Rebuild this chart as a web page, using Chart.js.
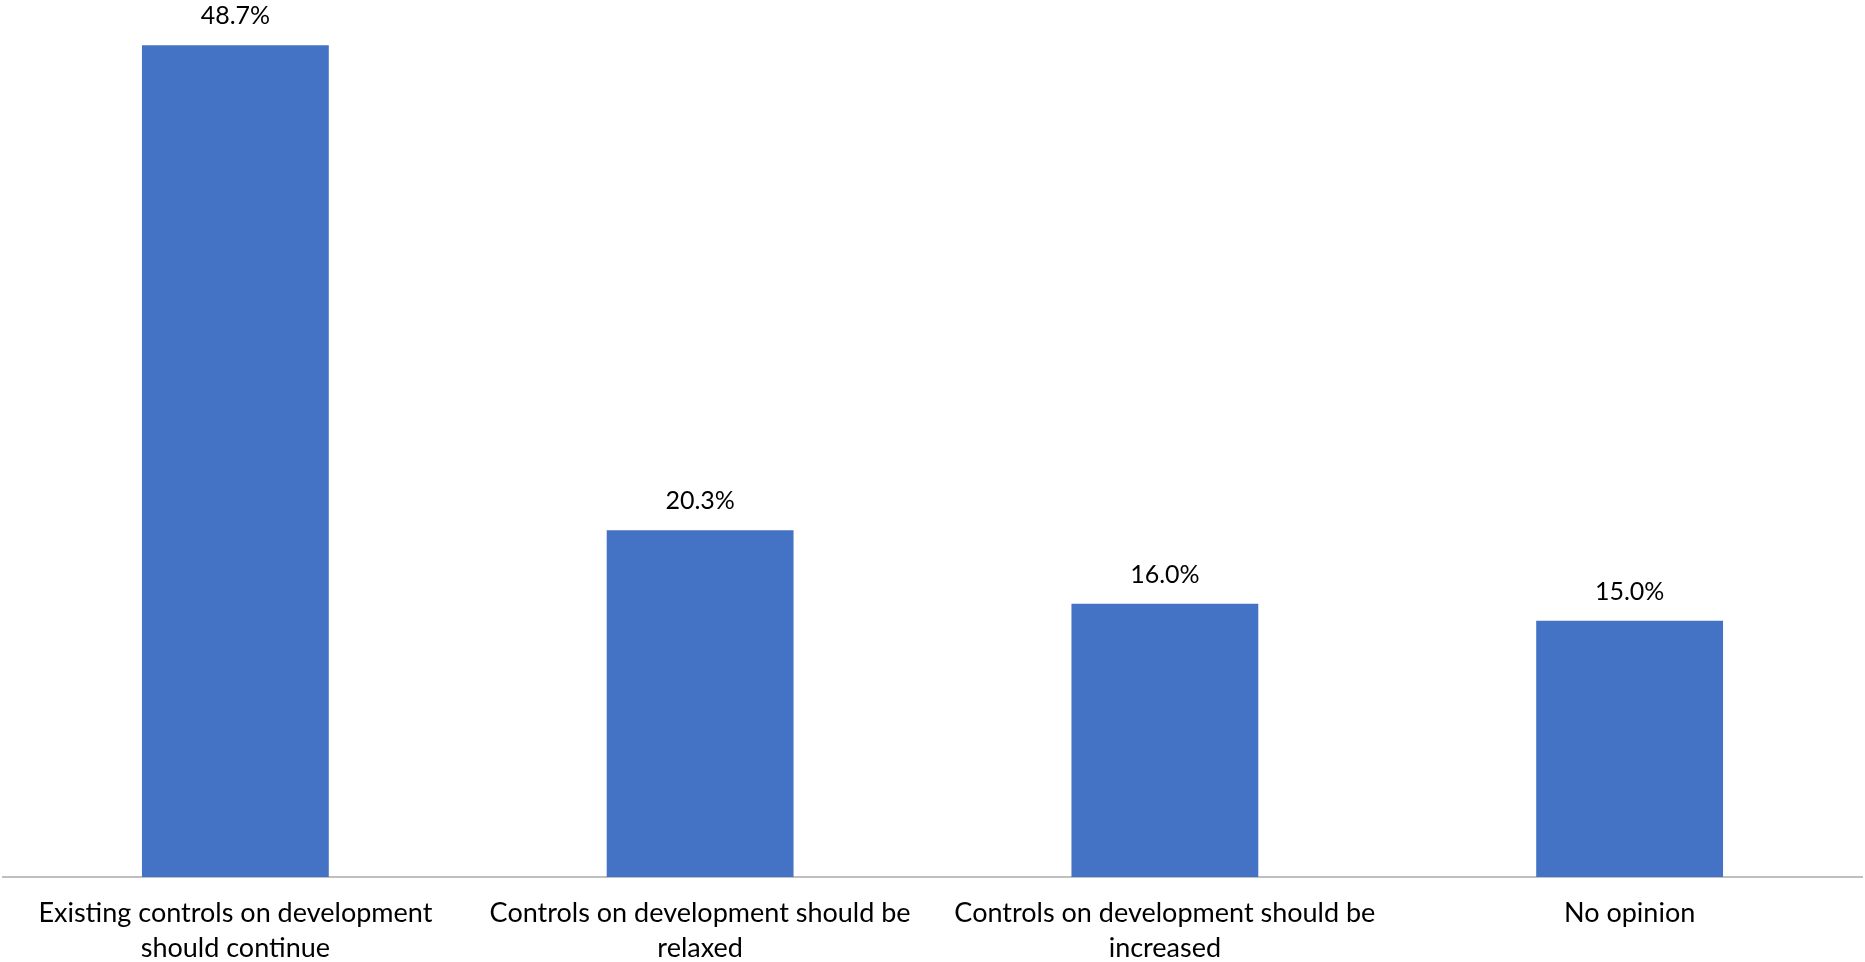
<!DOCTYPE html>
<html>
<head>
<meta charset="utf-8">
<title>Development controls</title>
<script src="https://cdn.jsdelivr.net/npm/chart.js"></script>
<style>
  html, body { margin: 0; padding: 0; background: #ffffff; }
  #wrap { width: 1865px; height: 962px; }
</style>
</head>
<body>
<div id="wrap"><canvas id="devChart" width="1865" height="962"></canvas></div>
<script>
const categories = [
  ['Existing controls on development', 'should continue'],
  ['Controls on development should be', 'relaxed'],
  ['Controls on development should be', 'increased'],
  'No opinion'
];
const shares = [48.7, 20.3, 16.0, 15.0];

const FONT = 'Lato, "Open Sans", sans-serif';

// value labels above each bar
const barLabels = {
  id: 'barLabels',
  afterDatasetsDraw(chart) {
    const ctx = chart.ctx;
    const meta = chart.getDatasetMeta(0);
    ctx.save();
    ctx.font = '25px ' + FONT;
    ctx.fillStyle = '#000000';
    ctx.textAlign = 'center';
    ctx.textBaseline = 'alphabetic';
    meta.data.forEach((bar, i) => {
      ctx.fillText(shares[i].toFixed(1) + '%', bar.x, bar.y - 21);
    });
    ctx.restore();
  }
};

const devChart = new Chart(document.getElementById('devChart'), {
  type: 'bar',
  data: {
    labels: categories,
    datasets: [{
      data: shares,
      backgroundColor: '#4472C4',
      borderWidth: 0,
      barPercentage: 0.402,
      categoryPercentage: 1
    }]
  },
  options: {
    responsive: false,
    devicePixelRatio: 1,
    animation: false,
    layout: { padding: { top: 23, left: 3, right: 3, bottom: 0 } },
    plugins: {
      legend: { display: false },
      tooltip: { enabled: false }
    },
    scales: {
      x: {
        grid: { display: false, drawTicks: false },
        border: { display: true, color: '#bfbfbf', width: 2 },
        ticks: {
          color: '#000000',
          padding: 19,
          maxRotation: 0,
          autoSkip: false,
          font: { family: FONT, size: 27, lineHeight: 1.28 }
        },
        afterFit(axis) { axis.height = 85; }
      },
      y: {
        display: false,
        min: 0,
        max: 50
      }
    }
  },
  plugins: [barLabels]
});
</script>
</body>
</html>
